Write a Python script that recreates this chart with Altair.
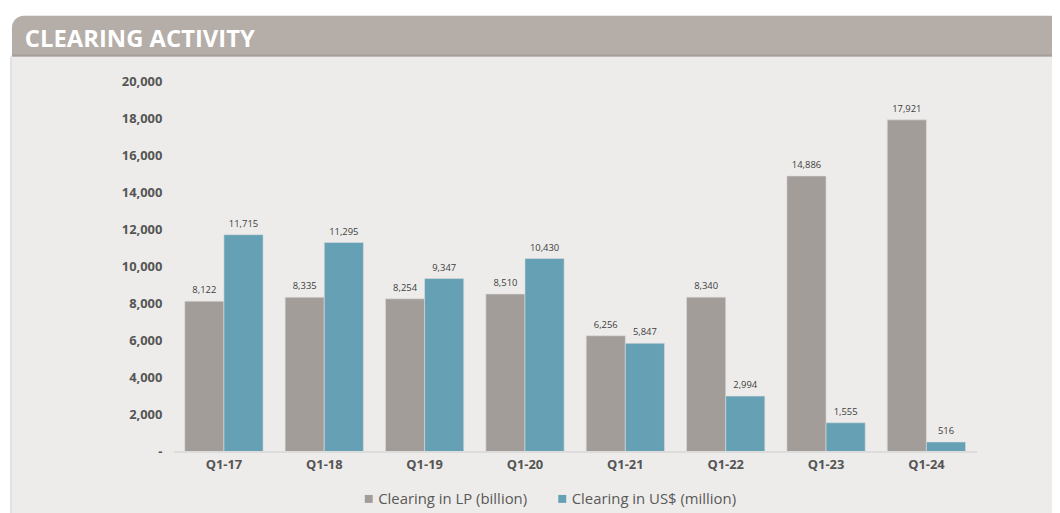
import altair as alt
import pandas as pd

quarters = ["Q1-17", "Q1-18", "Q1-19", "Q1-20", "Q1-21", "Q1-22", "Q1-23", "Q1-24"]
lp_billion = [8122, 8335, 8254, 8510, 6256, 8340, 14886, 17921]
usd_million = [11715, 11295, 9347, 10430, 5847, 2994, 1555, 516]
series_names = ["Clearing in LP (billion)", "Clearing in US$ (million)"]
series_colors = ["#a39d9a", "#66a0b5"]
y_ticks = [0, 2000, 4000, 6000, 8000, 10000, 12000, 14000, 16000, 18000, 20000]
title_text = "CLEARING ACTIVITY"

rows = []
for q, a, b in zip(quarters, lp_billion, usd_million):
    rows.append({"quarter": q, "series": series_names[0], "value": a})
    rows.append({"quarter": q, "series": series_names[1], "value": b})
df = pd.DataFrame(rows)

FONT = "Open Sans"
W, H = 809, 373
LEFT, TOP = 167, 72
one = pd.DataFrame({"a": [0]})

x_enc = alt.X(
    "quarter:N", sort=quarters, title=None,
    scale=alt.Scale(paddingInner=0.22, paddingOuter=0.11),
    axis=alt.Axis(labelFont=FONT, labelFontWeight="bold", labelFontSize=13,
                  labelColor="#555555", labelPadding=7, ticks=False,
                  domainColor="#dcdcdc", domainWidth=2, labelAngle=0, zindex=1),
)
y_enc = alt.Y(
    "value:Q", title=None,
    scale=alt.Scale(domain=[0, 20000], nice=False),
    axis=alt.Axis(values=y_ticks, labelFont=FONT, labelFontWeight="bold",
                  labelFontSize=13, labelColor="#555555", labelPadding=12,
                  ticks=False, domain=False, grid=False, zindex=1,
                  labelExpr="datum.value == 0 ? '-' : format(datum.value, ',')"),
)
xoff = alt.XOffset("series:N", sort=series_names)

PX = -(8 + LEFT - 12)  # panel left edge at page x=12
body = alt.Chart(one).mark_rect(color="#edecea").encode(
    x=alt.value(PX), x2=alt.value(900), y=alt.value(-25), y2=alt.value(460))
shadow = alt.Chart(one).mark_rect(color="#e4e2df").encode(
    x=alt.value(PX - 2), x2=alt.value(PX), y=alt.value(-25), y2=alt.value(460))
header = alt.Chart(one).mark_rect(color="#b5ada7", cornerRadiusTopLeft=12).encode(
    x=alt.value(PX), x2=alt.value(900), y=alt.value(-66), y2=alt.value(-25))
header_edge = alt.Chart(one).mark_rect(color="#a69e98").encode(
    x=alt.value(PX), x2=alt.value(900), y=alt.value(-27), y2=alt.value(-25))
title = alt.Chart(one).mark_text(
    text=title_text, font=FONT, fontWeight="bold", fontSize=24, color="white",
    align="left", baseline="middle").encode(x=alt.value(PX + 13), y=alt.value(-42))

bars = alt.Chart(df).mark_bar(stroke="#dcdcdc", strokeWidth=0.6).encode(
    x=x_enc, y=y_enc, xOffset=xoff,
    color=alt.Color("series:N", sort=series_names,
                    scale=alt.Scale(domain=series_names, range=series_colors),
                    legend=alt.Legend(orient="none", legendX=189, legendY=413,
                                      direction="horizontal", title=None,
                                      symbolType="square", symbolSize=64,
                                      symbolStrokeWidth=0, labelFont=FONT,
                                      labelFontSize=15, labelColor="#595959",
                                      labelOffset=2, columnPadding=27,
                                      labelLimit=400, zindex=1)),
)
labels = alt.Chart(df).mark_text(
    font=FONT, fontSize=9.5, color="#404040", baseline="bottom", dy=-6).encode(
    x=x_enc, y=y_enc, xOffset=xoff, text=alt.Text("value:Q", format=","))

chart = alt.layer(shadow, body, header, header_edge, title, bars, labels).properties(
    width=W, height=H,
    autosize=alt.AutoSizeParams(type="none"),
    padding={"left": LEFT, "top": TOP, "right": 1052 - LEFT - W, "bottom": 60},
    background="white",
).configure_view(stroke=None)

chart.save("out.html", embed_options={"renderer": "svg", "actions": False})
